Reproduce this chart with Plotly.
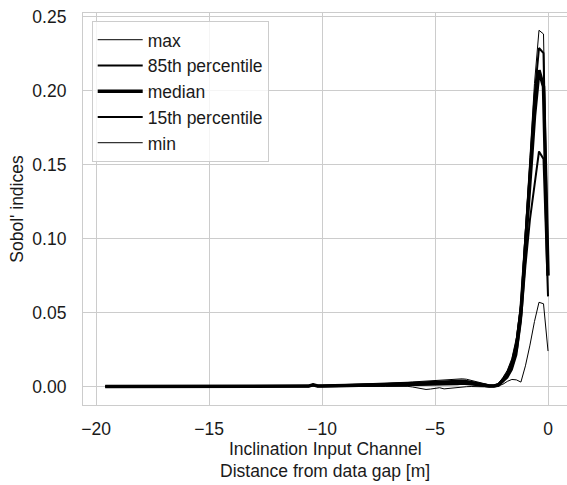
import numpy as np
import plotly.graph_objects as go

# Distance from data gap [m] (sampling grid, 0.2 m spacing)
distance = np.round(np.arange(-19.6, 0.001, 0.2), 1)

s_max = [
    0.0001, 0.0001, 0.0001, 0.0001, 0.0001, 0.0001, 0.0001, 0.0001, 0.0001, 0.0001,
    0.0001, 0.0001, 0.0001, 0.0001, 0.0001, 0.0001, 0.0001, 0.0001, 0.0001, 0.0001,
    0.0001, 0.0001, 0.0002, 0.0001, 0.0002, 0.0002, 0.0001, 0.0002, 0.0002, 0.0002,
    0.0003, 0.0002, 0.0003, 0.0003, 0.0002, 0.0003, 0.0004, 0.0003, 0.0004, 0.0004,
    0.0004, 0.0005, 0.0004, 0.0005, 0.0005, 0.0006,
    0.0016, 0.0008,
    0.0008, 0.0009, 0.0009, 0.0010, 0.0011, 0.0011, 0.0012, 0.0013, 0.0014, 0.0014,
    0.0016, 0.0017, 0.0018, 0.0019, 0.0021, 0.0022, 0.0024, 0.0025, 0.0027, 0.0029,
    0.0031, 0.0033, 0.0035, 0.0038, 0.0040,
    0.0042, 0.0044, 0.0045, 0.0046, 0.0047, 0.0050, 0.0052, 0.0049, 0.0041, 0.0032,
    0.0024, 0.0016, 0.0011, 0.0010,
    0.0020,
    0.0060, 0.0110, 0.0190, 0.0330, 0.0580, 0.1030, 0.1550, 0.2050, 0.2410, 0.2385, 0.0790,
]

s_p85 = [
    0.0001, 0.0000, 0.0001, 0.0000, 0.0001, 0.0000, 0.0001, 0.0001, 0.0000, 0.0001,
    0.0001, 0.0000, 0.0001, 0.0001, 0.0000, 0.0001, 0.0001, 0.0001, 0.0000, 0.0001,
    0.0001, 0.0001, 0.0001, 0.0001, 0.0001, 0.0001, 0.0001, 0.0001, 0.0001, 0.0001,
    0.0002, 0.0001, 0.0002, 0.0002, 0.0002, 0.0002, 0.0002, 0.0002, 0.0003, 0.0003,
    0.0003, 0.0003, 0.0003, 0.0003, 0.0003, 0.0004,
    0.0013, 0.0006,
    0.0006, 0.0007, 0.0007, 0.0007, 0.0008, 0.0008, 0.0009, 0.0010, 0.0010, 0.0011,
    0.0012, 0.0013, 0.0013, 0.0014, 0.0015, 0.0016, 0.0018, 0.0019, 0.0020, 0.0022,
    0.0023, 0.0025, 0.0026, 0.0028, 0.0030,
    0.0032, 0.0034, 0.0035, 0.0036, 0.0037, 0.0039, 0.0041, 0.0038, 0.0032, 0.0025,
    0.0018, 0.0011, 0.0007, 0.0006,
    0.0015,
    0.0050, 0.0095, 0.0170, 0.0300, 0.0540, 0.0980, 0.1480, 0.1960, 0.2290, 0.2255, 0.0770,
]

s_median = [
    0.0000, 0.0000, 0.0000, 0.0000, 0.0000, 0.0000, 0.0000, 0.0000, 0.0000, 0.0000,
    0.0000, 0.0000, 0.0000, 0.0000, 0.0000, 0.0000, 0.0000, 0.0000, 0.0000, 0.0000,
    0.0000, 0.0000, 0.0000, 0.0000, 0.0000, 0.0001, 0.0000, 0.0001, 0.0000, 0.0000,
    0.0001, 0.0001, 0.0001, 0.0000, 0.0001, 0.0001, 0.0001, 0.0001, 0.0002, 0.0002,
    0.0001, 0.0002, 0.0002, 0.0001, 0.0002, 0.0003,
    0.0011, 0.0004,
    0.0004, 0.0005, 0.0005, 0.0005, 0.0006, 0.0006, 0.0007, 0.0007, 0.0008, 0.0008,
    0.0009, 0.0010, 0.0010, 0.0011, 0.0012, 0.0012, 0.0013, 0.0014, 0.0015, 0.0016,
    0.0017, 0.0018, 0.0019, 0.0021, 0.0022,
    0.0024, 0.0026, 0.0027, 0.0027, 0.0028, 0.0030, 0.0032, 0.0029, 0.0024, 0.0018,
    0.0012, 0.0007, 0.0004, 0.0003,
    0.0010,
    0.0040, 0.0080, 0.0145, 0.0260, 0.0500, 0.0930, 0.1400, 0.1830, 0.2140, 0.2030, 0.0750,
]

s_p15 = [
    0.0000, 0.0000, 0.0000, 0.0000, 0.0000, 0.0000, 0.0000, 0.0000, 0.0000, 0.0000,
    0.0000, 0.0000, 0.0000, 0.0000, 0.0000, 0.0000, 0.0000, 0.0000, 0.0000, 0.0000,
    0.0000, 0.0000, 0.0000, 0.0000, 0.0000, 0.0000, 0.0000, 0.0000, 0.0000, 0.0000,
    0.0000, 0.0000, 0.0000, 0.0000, 0.0000, 0.0000, 0.0001, 0.0000, 0.0001, 0.0001,
    0.0000, 0.0001, 0.0001, 0.0000, 0.0001, 0.0001,
    0.0008, 0.0002,
    0.0002, 0.0003, 0.0003, 0.0003, 0.0004, 0.0004, 0.0004, 0.0005, 0.0005, 0.0005,
    0.0006, 0.0006, 0.0007, 0.0007, 0.0008, 0.0008, 0.0009, 0.0009, 0.0010, 0.0010,
    0.0011, 0.0011, 0.0011, 0.0012, 0.0012,
    0.0013, 0.0014, 0.0014, 0.0013, 0.0014, 0.0016, 0.0018, 0.0017, 0.0014, 0.0010,
    0.0006, 0.0003, 0.0001, 0.0001,
    0.0006,
    0.0030, 0.0060, 0.0115, 0.0215, 0.0440, 0.0820, 0.1130, 0.1380, 0.1590, 0.1540, 0.0610,
]

s_min = [
    0.0000, 0.0000, -0.0001, 0.0000, 0.0000, -0.0001, 0.0000, 0.0000, 0.0000, -0.0001,
    0.0000, 0.0000, -0.0001, 0.0000, 0.0000, 0.0000, -0.0001, 0.0000, 0.0000, -0.0001,
    -0.0001, 0.0000, -0.0001, 0.0000, -0.0001, 0.0000, -0.0001, 0.0000, -0.0001, 0.0000,
    -0.0001, 0.0000, -0.0001, -0.0001, 0.0000, -0.0001, 0.0000, -0.0001, 0.0000, -0.0001,
    -0.0001, -0.0001, 0.0000, -0.0001, -0.0001, 0.0000,
    0.0005, -0.0001,
    -0.0001, 0.0000, -0.0001, 0.0000, 0.0000, -0.0001, 0.0000, 0.0000, 0.0001, 0.0000,
    0.0001, 0.0001, 0.0000, 0.0001, 0.0001, 0.0002, 0.0002, 0.0001, 0.0002, 0.0001,
    -0.0003, -0.0008, -0.0014, -0.0020, -0.0017,
    -0.0010, -0.0008, -0.0016, -0.0012, -0.0008, -0.0004, -0.0002, -0.0001, 0.0000, 0.0001,
    0.0000, -0.0002, -0.0003, 0.0000,
    0.0005,
    0.0015, 0.0035, 0.0048, 0.0045, 0.0030, 0.0140, 0.0280, 0.0440, 0.0570, 0.0560, 0.0240,
]

series_names = ["max", "85th percentile", "median", "15th percentile", "min"]
series_values = [s_max, s_p85, s_median, s_p15, s_min]
line_widths = [1.0, 2.0, 3.5, 2.0, 1.0]

x_ticks = [-20, -15, -10, -5, 0]
y_ticks = [0.00, 0.05, 0.10, 0.15, 0.20, 0.25]
x_title_lines = ["Inclination Input Channel", "Distance from data gap [m]"]

FONT = "Liberation Sans, Arial, sans-serif"
TXT = "#1a1a1a"
GRID = "#cccccc"
W, H = 567, 485
ML, MR, MT, MB = 83, 0, 13, 80
PH = H - MT - MB

fig = go.Figure()
for name, vals, lw in zip(series_names, series_values, line_widths):
    fig.add_trace(go.Scatter(
        x=distance, y=vals, mode="lines", name=name,
        line=dict(color="black", width=lw),
    ))

# two-line x-axis title, set as two centred text lines
for text, yc in zip(x_title_lines, [448.5, 470.5]):
    fig.add_annotation(
        text=text, xref="paper", yref="paper",
        x=0.5, y=-(yc - (H - MB)) / PH, xanchor="center", yanchor="middle",
        showarrow=False, font=dict(family=FONT, size=17.5, color=TXT),
    )

fig.update_layout(
    width=W, height=H,
    margin=dict(l=ML, r=MR, t=MT, b=MB, pad=0),
    plot_bgcolor="white", paper_bgcolor="white",
    font=dict(family=FONT, size=17.5, color=TXT),
    showlegend=True,
    legend=dict(
        x=0.018, y=0.98, xanchor="left", yanchor="top",
        bgcolor="rgba(255,255,255,0.8)", bordercolor=GRID, borderwidth=1,
        font=dict(family=FONT, size=17.5, color=TXT),
        itemwidth=45, tracegroupgap=0,
    ),
    xaxis=dict(
        range=[-20.584, 0.84], tickvals=x_ticks,
        showgrid=True, gridcolor=GRID, gridwidth=1.2,
        zeroline=False, showline=True, linecolor=GRID, linewidth=1.2, mirror=True,
        ticks="", ticklabelstandoff=8,
    ),
    yaxis=dict(
        range=[-0.0125, 0.2527], tickvals=y_ticks, tickformat=".2f",
        showgrid=True, gridcolor=GRID, gridwidth=1.2,
        zeroline=False, showline=True, linecolor=GRID, linewidth=1.2, mirror=False,
        ticks="", ticklabelstandoff=12,
        title=dict(text="Sobol' indices", font=dict(size=17.5), standoff=4),
    ),
)

fig.write_html("out.html")
